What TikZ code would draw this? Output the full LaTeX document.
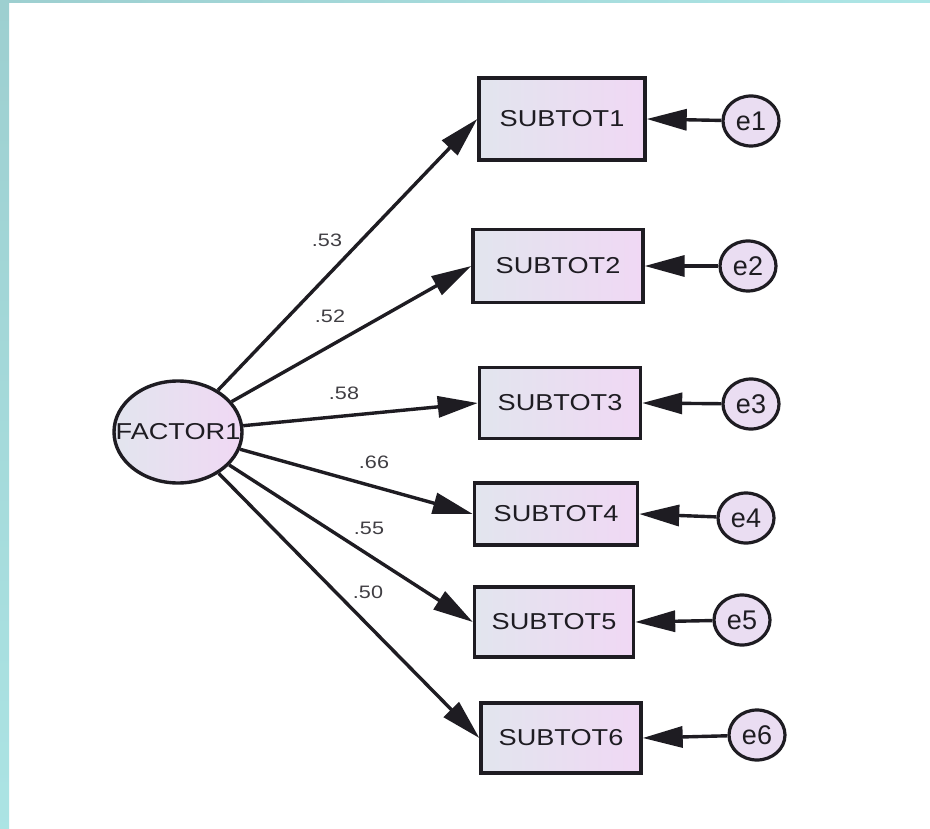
\documentclass[tikz,border=0pt]{standalone}
\usepackage{fontspec}
\setmainfont{Liberation Sans}
\usetikzlibrary{arrows.meta,shapes.geometric}
\definecolor{tealA}{HTML}{9DCFD0}
\definecolor{tealB}{HTML}{ADE6E6}
\definecolor{boxL}{HTML}{E2E5EE}
\definecolor{boxR}{HTML}{F0D8F4}
\definecolor{ink}{HTML}{1E1C22}
\newcommand{\boxtxt}[1]{\makebox[0pt]{\scalebox{1.18}[1]{\fontsize{23}{25}\selectfont #1}}}
\newcommand{\errtxt}[1]{\makebox[0pt]{\fontsize{27}{29}\selectfont #1}}
\newcommand{\lbltxt}[1]{\scalebox{1.2}[1]{\fontsize{18}{20}\selectfont #1}}
\tikzset{
  obs/.style={draw=ink, line width=3.4pt, rectangle, inner sep=0pt, left color=boxL, right color=boxR, text=ink},
  lat/.style={draw=ink, line width=3.4pt, ellipse, inner sep=0pt, left color=boxL, right color=boxR, text=ink},
  err/.style={draw=ink, line width=3.2pt, ellipse, inner sep=0pt, minimum width=56pt, minimum height=50pt, fill=boxR!60!boxL, text=ink},
  arr/.style={draw=ink, line width=3.4pt, -{Triangle[length=40pt,width=21pt]}},
  lbl/.style={text=ink!85, inner sep=0pt}
}
\begin{document}
\begin{tikzpicture}[x=1pt,y=-1pt]
\useasboundingbox (0,0) rectangle (930,829);
\fill[white] (0,0) rectangle (930,829);
\shade[top color=tealA, bottom color=tealB!90!tealA] (0,0) rectangle (9,829);
\shade[left color=tealA, right color=tealB] (0,0) rectangle (930,3);
% latent
\node[lat, minimum width=128pt, minimum height=102pt] (f) at (178,432) {\boxtxt{FACTOR1}};
% observed
\node[obs, minimum width=166pt, minimum height=82pt] (s1) at (562,119) {\boxtxt{SUBTOT1}};
\node[obs, minimum width=170pt, minimum height=73pt] (s2) at (558,266) {\boxtxt{SUBTOT2}};
\node[obs, minimum width=161pt, minimum height=71pt] (s3) at (560,403) {\boxtxt{SUBTOT3}};
\node[obs, minimum width=163pt, minimum height=62pt] (s4) at (556,514) {\boxtxt{SUBTOT4}};
\node[obs, minimum width=159pt, minimum height=70pt] (s5) at (554,622) {\boxtxt{SUBTOT5}};
\node[obs, minimum width=160pt, minimum height=70pt] (s6) at (561,738) {\boxtxt{SUBTOT6}};
% errors
\node[err] (e1) at (751,121) {\errtxt{e1}};
\node[err] (e2) at (748,266) {\errtxt{e2}};
\node[err] (e3) at (751,404) {\errtxt{e3}};
\node[err] (e4) at (746,518) {\errtxt{e4}};
\node[err] (e5) at (742,620) {\errtxt{e5}};
\node[err] (e6) at (757,735) {\errtxt{e6}};
% loadings
\foreach \i in {1,...,6} {
  \draw[arr] (f) -- (s\i.west);
  \draw[arr] (e\i) -- (s\i.east);
}
% labels
\node[lbl] (l1) at (327,240) {\lbltxt{.53}};
\node[lbl] (l2) at (330,316) {\lbltxt{.52}};
\node[lbl] (l3) at (344,393) {\lbltxt{.58}};
\node[lbl] (l4) at (374,462) {\lbltxt{.66}};
\node[lbl] (l5) at (369,528) {\lbltxt{.55}};
\node[lbl] (l6) at (368,592) {\lbltxt{.50}};
\end{tikzpicture}
\end{document}
